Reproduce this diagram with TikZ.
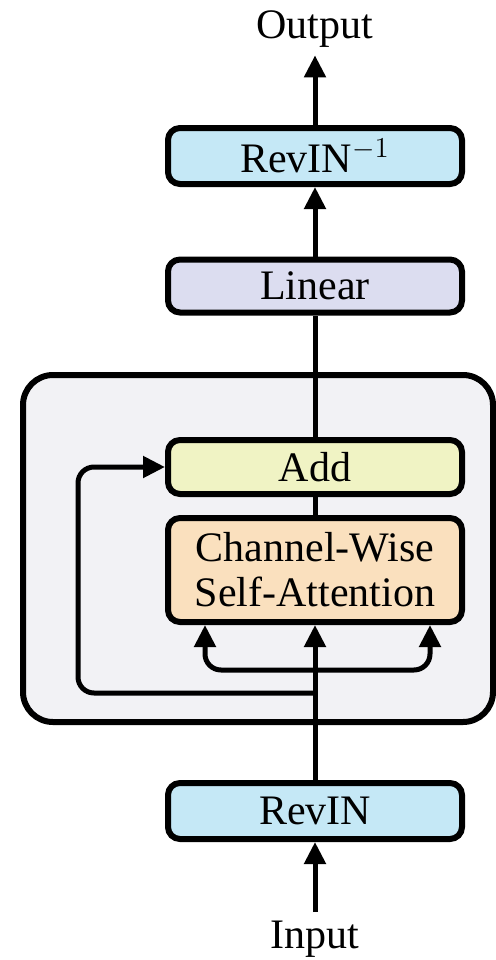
\documentclass[tikz,border=0pt]{standalone}
\usepackage{fontspec}
\setmainfont{Liberation Serif}
\usetikzlibrary{arrows.meta}

\definecolor{revinblue}{RGB}{197,232,246}
\definecolor{linearlav}{RGB}{220,221,240}
\definecolor{addyellow}{RGB}{240,243,196}
\definecolor{attnpeach}{RGB}{250,224,190}
\definecolor{blockgray}{RGB}{242,242,245}

\tikzset{
  blockbox/.style={draw=black, line width=3pt, rounded corners=6pt,
    minimum width=147pt, inner sep=0pt, align=center,
    font=\fontsize{21}{22.5}\selectfont},
  label/.style={inner sep=4pt, font=\fontsize{21}{22.5}\selectfont},
  conn/.style={line width=2.5pt, -{Triangle[length=11pt,width=10.5pt]}},
  plain/.style={line width=2.5pt},
}

\begin{document}
\begin{tikzpicture}[x=0.5pt,y=-0.5pt]
  \useasboundingbox (0,0) rectangle (495,960);

  % encoder block background
  \draw[line width=3pt, fill=blockgray, rounded corners=15pt]
    (23,375) rectangle (493,722);

  % blocks
  \node[blockbox, fill=revinblue, minimum height=28pt] (revinv) at (315,156) {RevIN$^{-1}$};
  \node[blockbox, fill=linearlav, minimum height=26.5pt] (linear) at (315,286) {Linear};
  \node[blockbox, fill=addyellow, minimum height=27pt] (add) at (315,467) {Add};
  \node[blockbox, fill=attnpeach, minimum height=52pt] (attn) at (315,570) {Channel-Wise\\Self-Attention};
  \node[blockbox, fill=revinblue, minimum height=28pt] (revin) at (315,811) {RevIN};

  % input / output labels
  \node[label, anchor=base] (out) at (315,38) {Output};
  \node[label, anchor=base] (in) at (315,948) {Input};

  % branch points on the main stream
  \coordinate (skip) at (315,693);
  \coordinate (split) at (315,670);

  % main stream
  \draw[conn] (in.north) -- (revin.south);
  \draw[conn] (revin.north) -- (attn.south);
  \draw[plain] (attn.north) -- (add.south);
  \draw[plain] (add.north) -- (linear.south);
  \draw[conn] (linear.north) -- (revinv.south);
  \draw[conn] (revinv.north) -- (out.south);

  % query / key / value branches
  \draw[conn, rounded corners=8pt] (split) -- (205,670) -- (attn.south -| 205,0);
  \draw[conn, rounded corners=8pt] (split) -- (430,670) -- (attn.south -| 430,0);

  % residual connection
  \draw[conn, rounded corners=8pt] (skip) -- (78,693) -- (78,467) -- (add.west);
\end{tikzpicture}
\end{document}
